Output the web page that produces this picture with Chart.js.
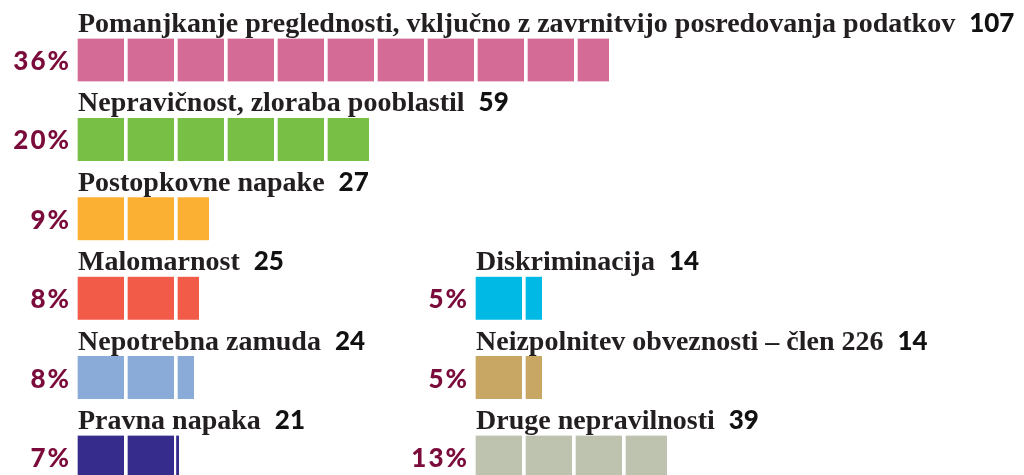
<!DOCTYPE html>
<html>
<head>
<meta charset="utf-8">
<script src="https://cdn.jsdelivr.net/npm/chart.js@4.4.1/dist/chart.umd.min.js"></script>
<style>
  html, body { margin: 0; padding: 0; background: #fff; }
  #wrap { width: 1024px; height: 475px; position: relative; }
</style>
</head>
<body>
<div id="wrap"><canvas id="chart"></canvas></div>
<script>
// --- Data ---
const leftCategories = [
    'Pomanjkanje preglednosti, vključno z zavrnitvijo posredovanja podatkov',
    'Nepravičnost, zloraba pooblastil',
    'Postopkovne napake',
    'Malomarnost',
    'Nepotrebna zamuda',
    'Pravna napaka'
];
const leftCounts = [107, 59, 27, 25, 24, 21];
const leftPercents = ['36%', '20%', '9%', '8%', '8%', '7%'];

const rightCategories = [
    'Diskriminacija',
    'Neizpolnitev obveznosti – člen 226',
    'Druge nepravilnosti'
];
const rightCounts = [14, 14, 39];
const rightPercents = ['5%', '5%', '13%'];

// --- Styles / layout ---
const leftColors = ['#d36b96', '#77bf45', '#fbb034', '#f15b48', '#8aaad8', '#352c8c'];
const rightColors = ['#00b9e4', '#c8a664', '#bec3b0'];
const SEGMENT = 10;          // one block = 10 complaints
const RIGHT_OFFSET = 79.6;   // right column starts this many units to the right
const RIGHT_FIRST_ROW = 3;   // right column sits next to the 4th row

const rowCount = leftCategories.length;
const maxCount = Math.max(...leftCounts, ...rightCounts);
const segCount = Math.ceil(maxCount / SEGMENT);

// Build one floating-bar dataset per 10-unit block
const datasets = [];
for (let k = 0; k < segCount; k++) {
    const leftData = leftCounts.map(v => v > k * SEGMENT ? [k * SEGMENT, Math.min(v, (k + 1) * SEGMENT)] : null);
    datasets.push({ data: leftData, backgroundColor: leftColors });

    const rightData = new Array(rowCount).fill(null);
    const rightBg = new Array(rowCount).fill('#fff');
    rightCounts.forEach((v, i) => {
        if (v > k * SEGMENT) {
            rightData[RIGHT_FIRST_ROW + i] = [RIGHT_OFFSET + k * SEGMENT, RIGHT_OFFSET + Math.min(v, (k + 1) * SEGMENT)];
        }
        rightBg[RIGHT_FIRST_ROW + i] = rightColors[i];
    });
    datasets.push({ data: rightData, backgroundColor: rightBg });
}
datasets.forEach(ds => Object.assign(ds, {
    grouped: false,
    clip: false,
    barThickness: 43,
    borderColor: '#ffffff',
    borderWidth: { left: 4, right: 0, top: 0, bottom: 0 },
    borderSkipped: false
}));

// Draws category names, counts and percentages
const labelPlugin = {
    id: 'rowLabels',
    afterDatasetsDraw(chart) {
        const ctx = chart.ctx;
        const xs = chart.scales.x;
        const ys = chart.scales.y;

        function drawRow(name, count, pct, origin, row) {
            const cy = ys.getPixelForValue(row);
            const x0 = xs.getPixelForValue(origin);
            ctx.save();
            // category name
            ctx.font = 'bold 28px "Liberation Serif"';
            ctx.fillStyle = '#231f20';
            ctx.textAlign = 'left';
            ctx.textBaseline = 'alphabetic';
            const base = cy - 28;
            ctx.fillText(name, x0 + 4, base);
            const w = ctx.measureText(name).width;
            // count
            ctx.font = '900 26px Lato';
            ctx.fillStyle = '#111';
            ctx.fillText(String(count), x0 + 4 + w + 14, base);
            // percent
            ctx.font = '900 26px Lato';
            ctx.fillStyle = '#7a0b3b';
            ctx.letterSpacing = '2px';
            ctx.textAlign = 'right';
            ctx.fillText(pct, x0 - 3, cy + 10);
            ctx.restore();
        }

        leftCategories.forEach((name, i) => drawRow(name, leftCounts[i], leftPercents[i], 0, i));
        rightCategories.forEach((name, i) => drawRow(name, rightCounts[i], rightPercents[i], RIGHT_OFFSET, RIGHT_FIRST_ROW + i));
    }
};

new Chart(document.getElementById('chart'), {
    type: 'bar',
    data: { labels: leftCategories, datasets: datasets },
    options: {
        indexAxis: 'y',
        responsive: true,
        maintainAspectRatio: false,
        animation: false,
        layout: { padding: { left: 74, right: 0, top: 60, bottom: 18 } },
        scales: {
            x: { type: 'linear', min: 0, max: 190, display: false },
            y: { type: 'category', offset: false, display: false }
        },
        plugins: {
            legend: { display: false },
            tooltip: { enabled: false }
        }
    },
    plugins: [labelPlugin]
});
</script>
</body>
</html>
